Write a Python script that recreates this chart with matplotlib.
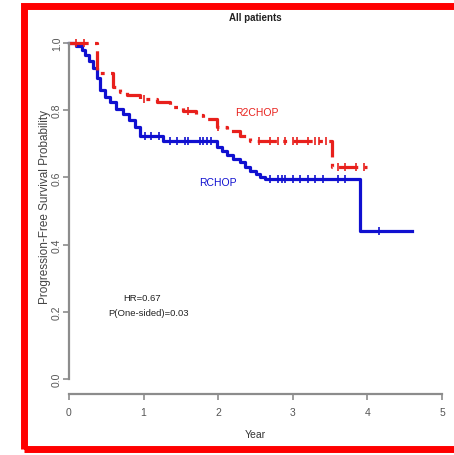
import numpy as np
import matplotlib
matplotlib.use("Agg")
import matplotlib.pyplot as plt
from matplotlib.patches import Rectangle

plt.rcParams['font.family'] = ['Liberation Sans', 'DejaVu Sans']

# Kaplan-Meier steps (time in years, survival after each step)
rchop_t = [0, 0.10, 0.17, 0.22, 0.27, 0.32, 0.37, 0.42, 0.48, 0.55, 0.63, 0.72, 0.80, 0.88,
           0.95, 1.26, 1.98, 2.05, 2.12, 2.20, 2.29, 2.36, 2.43, 2.50, 2.56, 2.63, 3.90, 4.60]
rchop_s = [1.0, 0.99, 0.98, 0.965, 0.945, 0.925, 0.895, 0.86, 0.84, 0.825, 0.805, 0.79, 0.77, 0.75,
           0.723, 0.708, 0.69, 0.678, 0.668, 0.655, 0.645, 0.632, 0.62, 0.61, 0.60, 0.595, 0.44, 0.44]
r2chop_t = [0, 0.37, 0.59, 0.68, 0.78, 0.95, 1.18, 1.35, 1.53, 1.70, 1.80, 1.98, 2.12, 2.29,
            2.43, 3.52, 4.0]
r2chop_s = [1.0, 0.91, 0.87, 0.855, 0.845, 0.833, 0.824, 0.81, 0.797, 0.785, 0.774, 0.75, 0.738,
            0.723, 0.707, 0.632, 0.632]

# censoring times
rchop_cens = [1.02, 1.1, 1.2, 1.35, 1.45, 1.55, 1.6, 1.75, 1.8, 1.85, 1.9, 2.7, 2.8, 2.85,
              2.9, 3.0, 3.1, 3.2, 3.3, 3.4, 3.6, 3.7, 4.15]
r2chop_cens = [0.1, 0.2, 1.0, 1.6, 2.0, 2.55, 2.7, 2.8, 2.9, 3.0, 3.05, 3.2, 3.3, 3.35,
               3.45, 3.6, 3.7, 3.85, 3.95]

x_ticks = [0, 1, 2, 3, 4, 5]
y_ticks = [0.0, 0.2, 0.4, 0.6, 0.8, 1.0]
y_tick_labels = ["0.0", "0.2", "0.4", "0.6", "0.8", "1.0"]


def step_value(times, surv, t):
    idx = np.searchsorted(times, t, side='right') - 1
    return np.array(surv)[idx]


W, H = 454, 456
fig = plt.figure(figsize=(W / 100, H / 100), dpi=100)

# axes: x 0..5 -> 69..442 px, y 0..1 -> 380..44 px
ymax = 1.03
left, right = 69, 442
y0, y1 = 380, 44
top_px = y0 - (y0 - y1) * ymax
ax = fig.add_axes([left / W, 1 - y0 / H, (right - left) / W, (y0 - top_px) / H])
ax.set_xlim(0, 5)
ax.set_ylim(0, ymax)

gray = '#8c8c8c'
blue = '#1010d0'
red = '#e8201c'

ax.step(rchop_t, rchop_s, where='post', color=blue, lw=2.3, clip_on=False)
ax.step(r2chop_t, r2chop_s, where='post', color=red, lw=2.3, dashes=(6, 2, 1.2, 2), clip_on=False)

ax.plot(rchop_cens, step_value(rchop_t, rchop_s, rchop_cens), ls='none', marker='|',
        ms=6, mew=1.2, color=blue)
ax.plot(r2chop_cens, step_value(r2chop_t, r2chop_s, r2chop_cens), ls='none', marker='|',
        ms=6, mew=1.2, color=red)

for s in ['top', 'right']:
    ax.spines[s].set_visible(False)
ax.spines['left'].set_bounds(0, 1)
ax.spines['bottom'].set_bounds(0, 5)
ax.spines['bottom'].set_position(('outward', 10.8))
for s in ['left', 'bottom']:
    ax.spines[s].set_color(gray)
    ax.spines[s].set_linewidth(1.6)

ax.set_xticks(x_ticks)
ax.set_yticks(y_ticks)
ax.set_yticklabels(y_tick_labels, rotation=90, va='center')
ax.tick_params(axis='both', colors=gray, length=4, width=1.2, labelsize=7.5, labelcolor='#555555')
ax.tick_params(axis='y', pad=1)
ax.tick_params(axis='x', pad=5)

ax.set_xlabel('Year', fontsize=7.5, color='#333333', labelpad=9)
ax.set_ylabel('Progression-Free Survival Probability', fontsize=8.5, color='#444444', labelpad=1)

ax.text(2.52, 0.795, 'R2CHOP', color=red, fontsize=7.5, ha='center', va='center')
ax.text(2.0, 0.586, 'RCHOP', color=blue, fontsize=7.5, ha='center', va='center')
ax.text(0.98, 0.244, 'HR=0.67', color='#222222', fontsize=6.8, ha='center', va='center')
ax.text(1.06, 0.198, 'P(One-sided)=0.03', color='#222222', fontsize=6.8, ha='center', va='center')

fig.text(255 / W, 1 - 18 / H, 'All patients', fontsize=7, color='#222222',
         ha='center', va='center', fontweight='bold')

# red frame
frame = Rectangle((23.5 / W, 1 - 450 / H), (470 - 23.5) / W, (450 - 6.5) / H,
                  transform=fig.transFigure, fill=False, edgecolor='#ff0000', lw=5.0,
                  clip_on=False)
fig.patches.append(frame)

fig.savefig('out.png', dpi=100)
